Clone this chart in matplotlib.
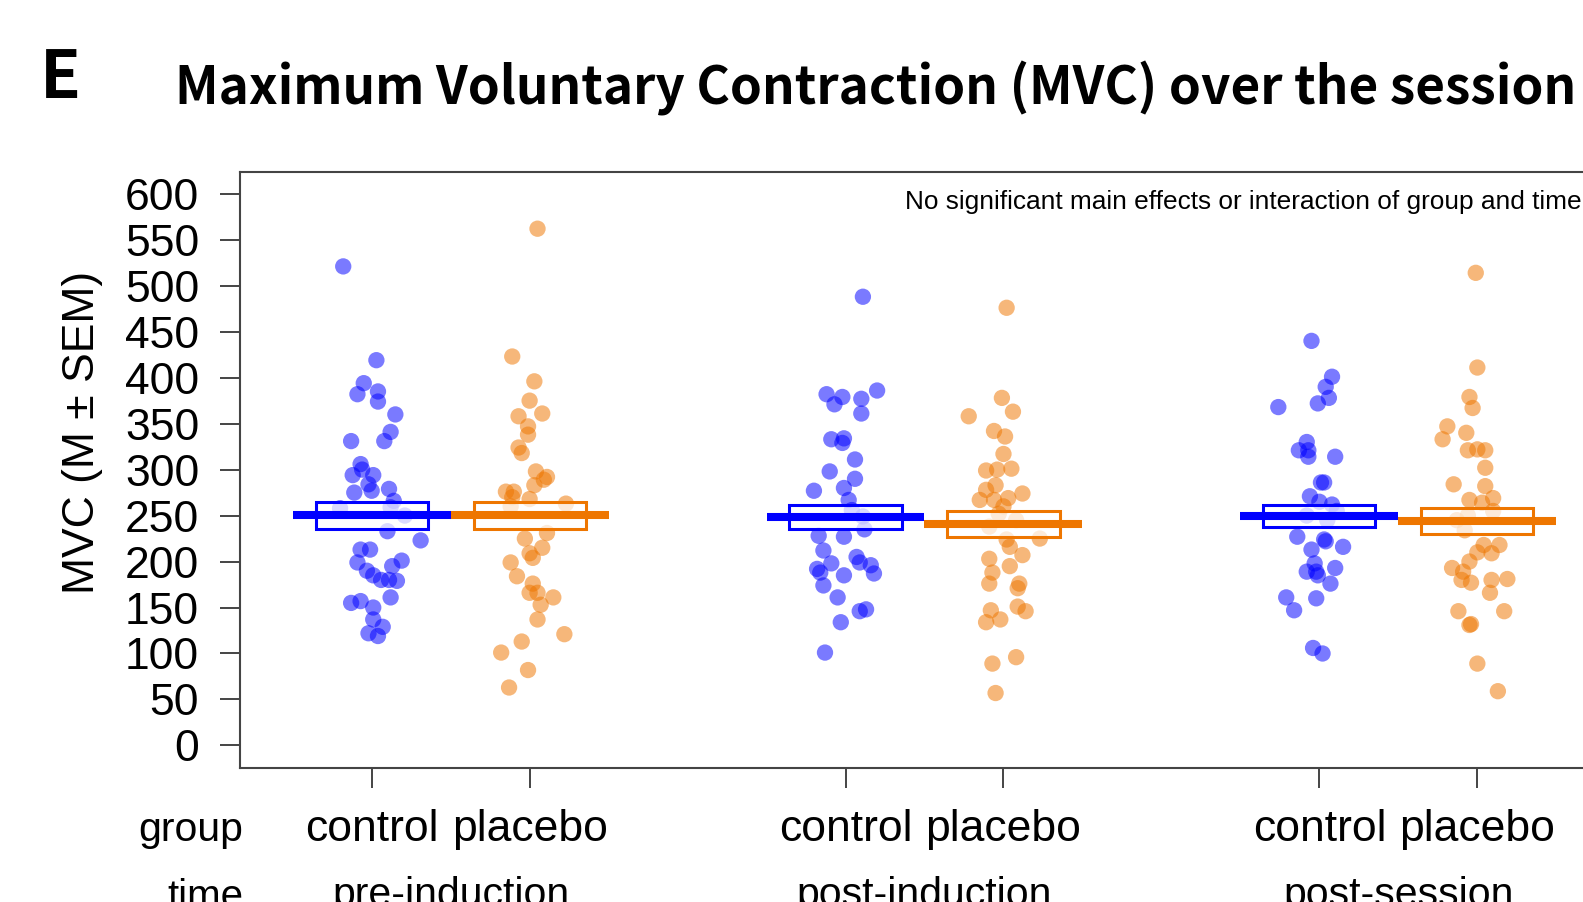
import matplotlib
matplotlib.use('Agg')
import matplotlib.pyplot as plt
from matplotlib.patches import Rectangle
from matplotlib import transforms

# ---------------- data ----------------
times = ['pre-induction', 'post-induction', 'post-session']
groups = ['control', 'placebo']
yticks = [0, 50, 100, 150, 200, 250, 300, 350, 400, 450, 500, 550, 600]

ctrl_pre = [521, 419, 394, 382, 385, 374, 360, 341, 331, 331, 306, 294, 300, 294,
            284, 277, 275, 279, 266, 258, 250, 259, 233, 223, 213, 213, 199, 201,
            190, 185, 195, 180, 180, 179, 161, 155, 157, 150, 137, 129, 122, 119]
ctrl_pre_jit = [-0.18, 0.03, -0.05, -0.09, 0.04, 0.04, 0.15, 0.12, 0.08, -0.13, -0.07,
                -0.12, -0.06, 0.01, -0.02, 0.0, -0.11, 0.11, 0.14, -0.20, 0.21, 0.12,
                0.10, 0.31, -0.07, -0.01, -0.09, 0.19, -0.03, 0.01, 0.13, 0.06, 0.11,
                0.16, 0.12, -0.13, -0.07, 0.01, 0.01, 0.07, -0.02, 0.04]

plac_pre = [562, 423, 396, 375, 358, 361, 347, 338, 324, 318, 298, 292, 289, 283,
            276, 276, 270, 268, 263, 260, 231, 225, 215, 209, 204, 199, 184, 176,
            166, 161, 153, 166, 137, 121, 113, 101, 82, 63]
plac_pre_jit = [0.05, -0.11, 0.03, 0.0, -0.07, 0.08, -0.01, -0.01, -0.07, -0.05, 0.04,
                0.11, 0.09, 0.03, -0.15, -0.10, -0.11, 0.0, 0.23, -0.12, 0.11, -0.03,
                0.08, 0.0, 0.02, -0.12, -0.08, 0.02, 0.05, 0.15, 0.07, 0.0, 0.05,
                0.22, -0.05, -0.18, -0.01, -0.13]

ctrl_post_ind = [488, 382, 379, 371, 377, 386, 361, 333, 334, 329, 311, 298, 290, 277,
                 280, 267, 256, 249, 235, 228, 227, 212, 205, 198, 192, 199, 196, 188,
                 185, 187, 174, 161, 148, 146, 134, 101]
ctrl_post_ind_jit = [0.11, -0.12, -0.02, -0.07, 0.10, 0.20, 0.10, -0.09, -0.01, -0.02,
                     0.06, -0.10, 0.06, -0.20, -0.01, 0.02, 0.04, 0.11, 0.12, -0.17,
                     -0.01, -0.14, 0.07, -0.09, -0.18, 0.09, 0.16, -0.16, -0.01, 0.18,
                     -0.14, -0.05, 0.13, 0.09, -0.03, -0.13]

plac_post_ind = [476, 378, 358, 363, 342, 336, 317, 299, 300, 301, 278, 283, 274, 267,
                 267, 269, 260, 245, 225, 224, 216, 207, 203, 195, 188, 176, 176, 171,
                 151, 146, 147, 134, 137, 96, 89, 57, 238, 252]
plac_post_ind_jit = [0.02, -0.01, -0.22, 0.06, -0.06, 0.01, 0.0, -0.11, -0.04, 0.05,
                     -0.11, -0.05, 0.12, -0.15, -0.06, 0.03, 0.0, 0.08, 0.23, 0.02,
                     0.04, 0.12, -0.09, 0.04, -0.07, -0.09, 0.10, 0.09, 0.09, 0.14,
                     -0.08, -0.11, -0.02, 0.08, -0.07, -0.05, -0.09, -0.03]

ctrl_post_ses = [440, 401, 390, 378, 372, 368, 330, 321, 321, 314, 314, 286, 286, 271,
                 265, 262, 227, 224, 222, 216, 213, 198, 193, 189, 189, 185, 176, 161,
                 160, 147, 106, 100, 250, 245, 255]
ctrl_post_ses_jit = [-0.05, 0.08, 0.04, 0.06, -0.01, -0.26, -0.08, -0.13, -0.07, -0.07,
                     0.10, 0.01, 0.03, -0.06, 0.0, 0.08, -0.14, 0.03, 0.04, 0.15, -0.05,
                     -0.03, 0.10, -0.08, -0.02, -0.01, 0.07, -0.21, -0.02, -0.16, -0.04,
                     0.02, -0.08, 0.05, 0.11]

plac_post_ses = [514, 411, 379, 367, 347, 333, 340, 321, 322, 321, 302, 284, 282, 267,
                 269, 264, 234, 218, 218, 209, 210, 200, 193, 189, 180, 177, 180, 181,
                 166, 146, 146, 132, 131, 89, 59, 250, 255, 245]
plac_post_ses_jit = [-0.01, 0.0, -0.05, -0.03, -0.19, -0.22, -0.07, -0.06, 0.0, 0.05,
                     0.05, -0.15, 0.05, -0.05, 0.10, 0.03, -0.08, 0.04, 0.14, 0.09, 0.0,
                     -0.05, -0.16, -0.09, -0.10, -0.04, 0.09, 0.19, 0.08, -0.12, 0.17,
                     -0.04, -0.05, 0.0, 0.13, -0.06, 0.10, -0.13]

ctrl_mean = [250.2, 248.4, 249.8]
ctrl_sem = [14.4, 13.2, 11.8]
plac_mean = [250.2, 241.3, 244.0]
plac_sem = [15.0, 14.2, 14.0]

title = 'Maximum Voluntary Contraction (MVC) over the session'
panel = 'E'
note = 'No significant main effects or interaction of group and time'
ylabel = 'MVC (M \u00b1 SEM)'

# ---------------- figure ----------------
W, H = 1583, 902
fig = plt.figure(figsize=(W / 100, H / 100), dpi=100)

def fx(px):
    return px / W

def fy(py):
    return 1 - py / H

# axes (right part cropped by the figure edge, as in the reference)
ax_left, ax_right, ax_top, ax_bot = 240, 1609, 171.7, 767.5
ax = fig.add_axes([fx(ax_left), fy(ax_bot), (ax_right - ax_left) / W, (ax_bot - ax_top) / H])
ax.set_xlim(0.1665, 8.8335)
ax.set_ylim(-24, 624)

blue = '#0000FF'
orange = '#EE7600'
colors = [blue, orange]

data = [[ctrl_pre, plac_pre], [ctrl_post_ind, plac_post_ind], [ctrl_post_ses, plac_post_ses]]
jits = [[ctrl_pre_jit, plac_pre_jit], [ctrl_post_ind_jit, plac_post_ind_jit],
        [ctrl_post_ses_jit, plac_post_ses_jit]]
means = [ctrl_mean, plac_mean]
sems = [ctrl_sem, plac_sem]

positions = []
for t in range(len(times)):
    for g in range(len(groups)):
        pos = 1 + 3 * t + g
        positions.append(pos)
        vals = data[t][g]
        xs = [pos + j for j in jits[t][g]]
        ax.scatter(xs, vals, s=138, color=colors[g], alpha=0.52, edgecolors='none', zorder=2)
        m, s = means[g][t], sems[g][t]
        ax.add_patch(Rectangle((pos - 0.355, m - s), 0.71, 2 * s, facecolor=(1, 1, 1, 0.72),
                               edgecolor=colors[g], linewidth=2.2, zorder=3))
        ax.plot([pos - 0.5, pos + 0.5], [m, m], color=colors[g], lw=5.8,
                solid_capstyle='butt', zorder=4)

frame_col = '#444444'
for sp in ax.spines.values():
    sp.set_color(frame_col)
    sp.set_linewidth(1.5)

ax.set_yticks(yticks)
ax.set_yticklabels([str(v) for v in yticks])
ax.set_xticks(positions)
ax.set_xticklabels([])
ax.tick_params(axis='both', direction='out', length=14.4, width=1.4, color=frame_col)
ax.tick_params(axis='y', pad=15)
for lab in ax.get_yticklabels():
    lab.set_fontfamily('Liberation Sans')
    lab.set_fontsize(32)

fig.text(fx(83), fy(432), ylabel, rotation=90, ha='center', va='center',
         fontsize=32, family='Liberation Sans')

# category labels below the axis
bt = transforms.blended_transform_factory(ax.transData, fig.transFigure)
for t in range(len(times)):
    for g in range(len(groups)):
        ax.text(1 + 3 * t + g, fy(841), groups[g], transform=bt, ha='center', va='baseline',
                fontsize=32, family='Liberation Sans', clip_on=False)
    ax.text(1 + 3 * t + 0.5, fy(906), times[t], transform=bt, ha='center', va='baseline',
            fontsize=29.5, family='Liberation Sans', clip_on=False)
fig.text(fx(243), fy(841), 'group', ha='right', va='baseline', fontsize=29.5, family='Liberation Sans')
fig.text(fx(205), fy(908), 'time', ha='center', va='baseline', fontsize=29, family='Liberation Sans')

# annotation
fig.text(fx(905), fy(209), note, ha='left', va='baseline', fontsize=18.9,
         family='Liberation Sans')

# titles
fig.text(fx(40), fy(98), panel, ha='left', va='baseline', fontsize=48,
         family=['Noto Sans CJK KR', 'DejaVu Sans'], fontweight='bold')
fig.text(fx(175), fy(105), title, ha='left', va='baseline', fontsize=36.9,
         family=['Noto Sans CJK KR', 'DejaVu Sans'], fontweight='bold')

fig.savefig('out.png', dpi=100)
